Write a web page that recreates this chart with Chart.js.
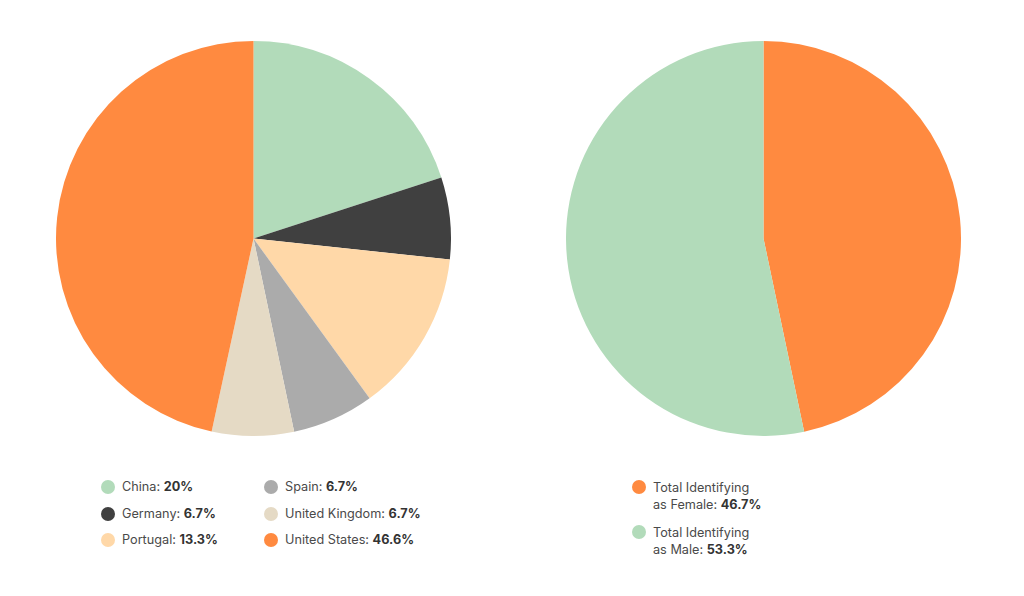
<!DOCTYPE html>
<html>
<head>
<meta charset="utf-8">
<script src="https://cdn.jsdelivr.net/npm/chart.js@4"></script>
<style>
  body { margin: 0; background: #fff; width: 1024px; height: 596px; position: relative; overflow: hidden;
         font-family: Inter, "Open Sans", sans-serif; color: #4a4a4a; }
  .pie { position: absolute; top: 41px; width: 395px; height: 395px; }
  .item { position: absolute; font-size: 12.7px; line-height: 16px; white-space: nowrap; }
  .item b { color: #333; font-weight: 700; }
  .gender { line-height: 17px; }
  .dot { position: absolute; width: 14px; height: 14px; border-radius: 50%; left: -21px; top: 1px; }
</style>
</head>
<body>
<div class="pie" style="left:56px"><canvas id="countryChart"></canvas></div>
<div class="pie" style="left:566px"><canvas id="genderChart"></canvas></div>
<div id="countryLegend"></div>
<div id="genderLegend"></div>
<script>
// landsfördelning
const countries = ["China", "Germany", "Portugal", "Spain", "United Kingdom", "United States"];
const countryShares = [20, 6.7, 13.3, 6.7, 6.7, 46.6];
const countryColors = ["#b2dbba", "#404040", "#ffd8a8", "#ababab", "#e5dac5", "#ff8a40"];

// könsfördelning
const genders = ["Total Identifying as Female", "Total Identifying as Male"];
const genderShares = [46.7, 53.3];
const genderColors = ["#ff8a40", "#b2dbba"];

/**
 * Skapar ett cirkeldiagram utan egen legend
 */
function renderPie(id, labels, values, colors) {
    new Chart(document.getElementById(id), {
        type: 'pie',
        data: {
            labels: labels,
            datasets: [{ data: values, backgroundColor: colors, borderWidth: 0, hoverOffset: 0 }]
        },
        options: {
            responsive: true,
            maintainAspectRatio: false,
            animation: false,
            layout: { padding: 0 },
            plugins: { legend: { display: false }, tooltip: { enabled: false } }
        }
    });
}

renderPie('countryChart', countries, countryShares, countryColors);
renderPie('genderChart', genders, genderShares, genderColors);

// legend för länder, två kolumner
const countryLegend = document.getElementById('countryLegend');
countries.forEach((name, i) => {
    const col = Math.floor(i / 3), row = i % 3;
    const el = document.createElement('div');
    el.className = 'item';
    el.style.left = (col ? 285 : 122) + 'px';
    el.style.top = (479 + row * 26.5) + 'px';
    el.innerHTML = `<span class="dot" style="background:${countryColors[i]}"></span>${name}: <b>${countryShares[i]}%</b>`;
    countryLegend.appendChild(el);
});

// legend för kön, radbrytning efter "Identifying"
const genderLegend = document.getElementById('genderLegend');
genders.forEach((name, i) => {
    const el = document.createElement('div');
    el.className = 'item gender';
    el.style.left = '653px';
    el.style.top = (479 + i * 45) + 'px';
    const parts = name.split(' as ');
    el.innerHTML = `<span class="dot" style="background:${genderColors[i]}"></span>${parts[0]}<br>as ${parts[1]}: <b>${genderShares[i]}%</b>`;
    genderLegend.appendChild(el);
});
</script>
</body>
</html>
